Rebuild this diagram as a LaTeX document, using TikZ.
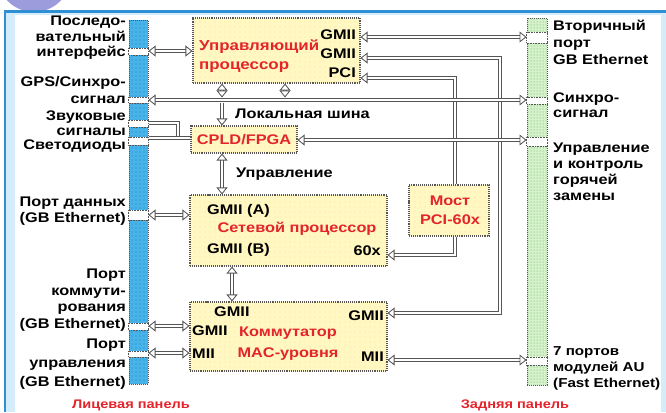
\documentclass[tikz,border=0pt]{standalone}
\usepackage{fontspec}
\usepackage{graphicx}
\setmainfont{Liberation Sans Bold}
\usetikzlibrary{arrows.meta,patterns.meta,calc}
\newcommand{\wx}[1]{\scalebox{1.17}[1]{#1}}
\definecolor{redt}{HTML}{E3242B}
\definecolor{boxfill}{HTML}{FFF8C2}
\definecolor{lbarc}{HTML}{46B4E8}
\definecolor{rbarc}{HTML}{D6F1CC}
\definecolor{framec}{HTML}{2E8FD2}
\definecolor{bgblue}{HTML}{D5EDFA}
\definecolor{lineg}{HTML}{555555}
\definecolor{blob}{HTML}{9C9CDC}
\begin{document}
\begin{tikzpicture}[x=1bp,y=-1bp,
  txt/.style={inner sep=0pt, font=\fontsize{14}{15}\selectfont, text=black},
  rtxt/.style={txt, text=redt},
  box/.style={draw=lineg, densely dotted, line width=1.1bp, fill=boxfill,
    postaction={pattern={Dots[distance=5bp,radius=0.45bp]}, pattern color=orange!70},
    inner sep=0pt},
  lbarst/.style={draw=lineg, densely dotted, line width=1bp, fill=lbarc,
    postaction={pattern={Dots[distance=4bp,radius=0.4bp]}, pattern color=blue!60!black},
    inner sep=0pt, minimum width=19bp},
  rbarst/.style={draw=lineg, densely dotted, line width=1bp, fill=rbarc,
    postaction={pattern={Dots[distance=3bp,radius=0.5bp]}, pattern color=green!40!gray},
    inner sep=0pt, minimum width=20bp},
  gap/.style={fill=white, draw=lineg, densely dotted, line width=0.6bp},
  conn/.style={draw=lineg, line width=0.85bp, double=white, double distance=2.4bp},
  >={Triangle[open,length=7bp,width=11bp]}
]
\useasboundingbox (0,0) rectangle (666,412);
% frame
\fill[white] (0,0) rectangle (666,412);
\fill[blob] (34,-25) circle (37);
\fill[framec] (4,10) rectangle (666,412);
\fill[bgblue] (6,12.5) rectangle (666,412);
\fill[white] (15,15) rectangle (661,412);

% panels
\node[lbarst, minimum height=364bp] (lbar) at (138.5,202) {};
\node[rbarst, minimum height=367bp] (rbar) at (537,201.5) {};
\foreach \a/\b in {48/55,97/103,120/127,137/145,210/220,323/330,351/357}
  \draw[gap] (lbar.west |- 0,\a) rectangle (lbar.east |- 0,\b);
\foreach \a/\b in {32/43,97/104,137/146,357/365}
  \draw[gap] (rbar.west |- 0,\a) rectangle (rbar.east |- 0,\b);

% boxes
\node[box, minimum width=167bp, minimum height=65bp] (cp) at (276.5,50.5) {};
\node[box, minimum width=106bp, minimum height=27bp] (cpld) at (244,139.5) {};
\node[box, minimum width=197bp, minimum height=71bp] (np) at (288.5,230.5) {};
\node[box, minimum width=80bp, minimum height=51bp] (br) at (449,210.5) {};
\node[box, minimum width=197bp, minimum height=69bp] (sw) at (288.5,336.5) {};

% coordinates
\coordinate (bus1) at (222,97.5);
\coordinate (bus2) at (285,97.5);
\coordinate (bus3) at (222,102.5);
\coordinate (j1) at (178,138);
\coordinate (c2) at (500,313);

% connectors
\draw[conn] (lbar.east |- 0,123) -| (j1);
\draw[conn] (lbar.east |- 0,138) -- (cpld.west |- 0,138);
\draw[conn,<-] (cp.east |- 0,78) -| (br.north -| 455,0);
\draw[conn,->] (br.south -| 455,0) |- (np.east |- 0,255);
\draw[conn,<->] (cp.east |- 0,58) -| (c2) -- (sw.east |- c2);
\draw[conn,<->] (lbar.east |- 0,51) -- (cp.west |- 0,51);
\draw[conn,<->] (cp.south -| bus1) -- (bus1);
\draw[conn,<->] (cp.south -| bus2) -- (bus2);
\draw[conn,->] (bus3) -- (cpld.north -| bus3);
\draw[conn,<->] (lbar.east |- 0,100) -- (rbar.west |- 0,100);
\draw[conn,<->] (cp.east |- 0,37) -- (rbar.west |- 0,37);
\draw[conn,<->] (cpld.east |- 0,140) -- (rbar.west |- 0,140);
\draw[conn,<->] (cpld.south -| 222,0) -- (np.north -| 222,0);
\draw[conn,<->] (lbar.east |- 0,215) -- (np.west |- 0,215);
\draw[conn,<->] (np.south -| 232,0) -- (sw.north -| 232,0);
\draw[conn,<->] (lbar.east |- 0,326) -- (sw.west |- 0,326);
\draw[conn,<->] (lbar.east |- 0,353) -- (sw.west |- 0,353);
\draw[conn,<->] (sw.east |- 0,360) -- (rbar.west |- 0,360);

% box texts
\node[rtxt, font=\fontsize{14.5}{19}\selectfont, align=left, anchor=west] (cpT) at (199,56) {\wx{Управляющий}\\\wx{процессор}};
\node[txt, anchor=east] (cpG1) at (356,35) {\wx{GMII}};
\node[txt, anchor=east] (cpG2) at (356,53.5) {\wx{GMII}};
\node[txt, anchor=east] (cpP) at (356,72.5) {\wx{PCI}};
\node[rtxt, font=\fontsize{14}{16}\selectfont] (cpldT) at (244,140) {\wx{CPLD/FPGA}};
\node[txt, anchor=west] (npA) at (207,211) {\wx{GMII (A)}};
\node[rtxt] (npT) at (297,229) {\wx{Сетевой процессор}};
\node[txt, anchor=west] (npB) at (207,250) {\wx{GMII (B)}};
\node[txt, anchor=east] (np60) at (381,251) {\wx{60x}};
\node[rtxt, align=center, font=\fontsize{14}{19}\selectfont] (brT) at (450,210) {\wx{Мост}\\\wx{PCI-60x}};
\node[txt, anchor=west] (swG0) at (214,312) {\wx{GMII}};
\node[txt, anchor=west] (swG1) at (192,331) {\wx{GMII}};
\node[txt, anchor=west] (swM1) at (192,354) {\wx{MII}};
\node[rtxt, align=center, font=\fontsize{14}{21}\selectfont] (swT) at (288,344) {\wx{Коммутатор}\\\wx{MAC-уровня}};
\node[txt, anchor=east] (swG2) at (384,316) {\wx{GMII}};
\node[txt, anchor=east] (swM2) at (384,357) {\wx{MII}};
\node[txt, anchor=west] (busT) at (235,114) {\wx{Локальная шина}};
\node[txt, anchor=west] (ctlT) at (236,174) {\wx{Управление}};

% left labels
\node[txt, align=right, anchor=east, font=\fontsize{14}{15.5}\selectfont] (lSer) at (126,38) {\wx{Последо-}\\\wx{вательный}\\\wx{интерфейс}};
\node[txt, align=right, anchor=east, font=\fontsize{14}{17}\selectfont] (lGps) at (126,90) {\wx{GPS/Синхро-}\\\wx{сигнал}};
\node[txt, align=right, anchor=east] (lSnd) at (126,123) {\wx{Звуковые}\\\wx{сигналы}};
\node[txt, align=right, anchor=east] (lLed) at (126,146) {\wx{Светодиоды}};
\node[txt, align=right, anchor=east, font=\fontsize{14}{16}\selectfont] (lData) at (126,211) {\wx{Порт данных}\\\wx{(GB Ethernet)}};
\node[txt, align=right, anchor=east, font=\fontsize{14}{16.5}\selectfont] (lComm) at (126,300) {\wx{Порт}\\\wx{коммути-}\\\wx{рования}\\\wx{(GB Ethernet)}};
\node[txt, align=right, anchor=east, font=\fontsize{14}{19}\selectfont] (lMgmt) at (126,364) {\wx{Порт}\\\wx{управления}\\\wx{(GB Ethernet)}};

% right labels
\node[txt, align=left, anchor=west, font=\fontsize{14}{17}\selectfont] (rSec) at (553,42) {\wx{Вторичный}\\\wx{порт}\\\wx{GB Ethernet}};
\node[txt, align=left, anchor=west] (rSync) at (553,105) {\wx{Синхро-}\\\wx{сигнал}};
\node[txt, align=left, anchor=west, font=\fontsize{14}{16}\selectfont] (rHot) at (553,172) {\wx{Управление}\\\wx{и контроль}\\\wx{горячей}\\\wx{замены}};
\node[txt, align=left, anchor=west, font=\fontsize{13}{16}\selectfont] (rAU) at (553,368) {\wx{7 портов}\\\wx{модулей AU}\\\wx{(Fast Ethernet)}};

% bottom labels
\node[rtxt, font=\fontsize{12.5}{14}\selectfont] (front) at (131,405) {\wx{Лицевая панель}};
\node[rtxt, font=\fontsize{12.5}{14}\selectfont] (rear) at (515,405) {\wx{Задняя панель}};
\end{tikzpicture}
\end{document}
